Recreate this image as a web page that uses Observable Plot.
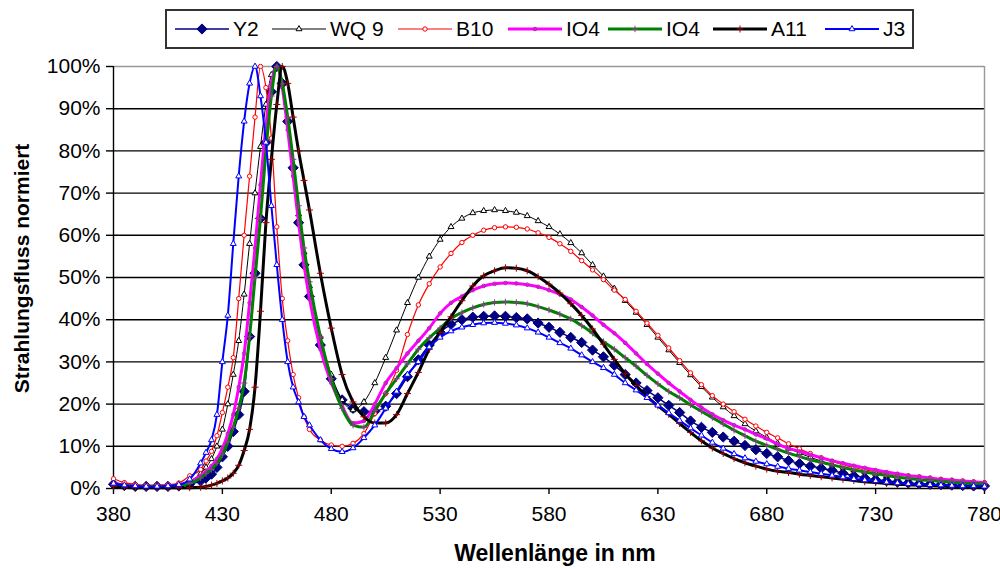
<!DOCTYPE html>
<html>
<head>
<meta charset="utf-8">
<script src="https://cdn.jsdelivr.net/npm/d3@7"></script>
<script src="https://cdn.jsdelivr.net/npm/@observablehq/plot@0.6"></script>
<style>
  html, body { margin: 0; padding: 0; background: #fff; }
  #chart { position: relative; width: 1000px; height: 569px; font-family: "Liberation Sans", Arial, sans-serif; }
  #legend { position: absolute; left: 165px; top: 9px; width: 745px; height: 36px; border: 2px solid #333; background: #fff; }
  .item { position: absolute; top: 0; height: 36px; display: flex; align-items: center; font-size: 21px; color: #000; }
  .item svg { margin-right: 4px; }
</style>
</head>
<body>
<div id="chart"><div id="legend"></div></div>
<script>
// ---- data ----
const wavelength = [380,385,390,395,400,405,410,415,420,
  422.5,425,427.5,430,432.5,435,437.5,440,442.5,445,447.5,450,452.5,455,457.5,460,462.5,465,467.5,470,
  475,480,485,490,495,500,505,510,515,520,525,530,535,540,545,550,555,560,565,570,575,580,585,590,595,
  600,605,610,615,620,625,630,635,640,645,650,655,660,665,670,675,680,685,690,695,700,705,710,715,720,
  725,730,735,740,745,750,755,760,765,770,775,780];

const Y2 = [1.0,0.7,0.5,0.5,0.5,0.5,0.6,1.0,1.8,
  2.5,3.4,5.0,7.5,10,13.5,17.5,23,36,51,64,82,94,100,96,87,76,63,53,45.5,
  34,26,21,19,18.2,18.3,19.5,22.5,26.5,30.5,34,37,38.9,40,40.6,40.8,40.9,40.8,40.5,40.2,39.2,38.2,37,35.8,34.6,
  32.8,31.2,29.2,27,25,23.2,21.5,19.7,18,16,14.5,13.3,12.2,11.2,10.2,9.2,8.3,7.5,6.6,5.9,5.3,4.8,4.3,3.6,3.0,
  2.5,2.1,1.8,1.5,1.3,1.1,1.0,0.9,0.8,0.7,0.6,0.6];

const WQ9 = [1.5,1.0,0.8,0.7,0.7,0.7,0.9,1.8,3.5,
  5,7,10,14,20,27,35,46,58,70,81,91,98,100,96,87,76,65,56,48,
  36,27,21,18.6,20.5,25,31,37.5,44,50,55,59,62,64,65.3,65.8,66,65.8,65.4,64.6,63.4,62,60.3,58.2,55.8,
  53,50.3,47.4,44.5,41.7,38.8,35.8,32.8,29.8,26.9,24.1,21.6,19.3,17.2,15.3,13.6,12.1,10.7,9.5,8.4,7.4,6.5,5.7,5.0,4.4,
  3.9,3.4,3.0,2.6,2.3,2.0,1.8,1.5,1.3,1.1,1.0,0.9];

const B10 = [2.3,1.4,1.0,0.8,0.8,0.9,1.3,3.0,4.5,
  6.5,8.8,12.5,18,24,31,45,60,74,88,100,95,83,62,45,35,27,21.5,17,14,
  11.5,10.3,10,10.7,13,17.8,22.5,28,36.5,43.5,48.5,52.5,55.7,58.3,60,61.2,61.8,62,61.9,61.5,60.6,59.5,58,56.2,54,
  51.8,49.5,47,44.8,42,39.2,36.3,33.3,30.3,27.4,24.6,22,20,18.2,16.4,14.8,13.3,12,10.6,9.4,8.3,7.3,6.4,5.6,5.0,
  4.4,4.0,3.6,3.3,3.0,2.8,2.5,2.2,2.0,1.8,1.6,1.4];

const IO4_magenta = [1.2,0.8,0.6,0.5,0.5,0.6,0.8,1.5,3.0,
  4,5.3,7,9.5,13,17.5,24,32,44,57,72,86,96,100,95,85,74,63,53,45,
  33,25,19.5,15.5,16,20,25,28.5,32,35,38,41.5,44,45.5,47,48,48.5,48.7,48.6,48.3,47.8,47,46,44.8,43,
  41,38.8,36.8,34.5,32,29.5,27.2,25,23,21,19.2,17.6,16.2,15,14,12.8,11.8,10.5,9.5,8.8,8,7.3,6.6,6,5.4,
  4.9,4.4,3.9,3.5,3.1,2.8,2.5,2.2,2.0,1.8,1.6,1.4];

const IO4_green = [1.0,0.7,0.5,0.5,0.5,0.5,0.7,1.2,2.5,
  3.5,4.5,6,8,11,14.5,19,25,36,50,64,80,93,100,96,88,78,67,57,49,
  36,26,19,15,14.5,18.5,22.5,26,29.5,33,35.7,38,40.3,41.7,42.8,43.6,44.1,44.2,44.1,43.8,43.1,42.3,41.3,40.2,38.6,
  36.8,34.8,33,31,29,26.8,24.8,23,21.5,19.8,18.3,16.8,15.3,13.8,12.5,11.2,10.2,9.3,8.4,7.6,6.8,6.2,5.6,5.0,4.4,
  3.9,3.5,3.1,2.7,2.4,2.1,1.9,1.7,1.5,1.3,1.2,1.1];

const A11 = [0.5,0.3,0.2,0.2,0.2,0.2,0.2,0.2,0.3,
  0.5,0.8,1.2,1.8,2.5,3.6,5.5,9,14,24,42,63,78,91,100,96,88,80,73,66,
  51,38,27,20.5,17,15.5,15.5,17.5,22.5,27.5,33,37,40.7,44.5,48,50.4,51.6,52.3,52.2,51.6,50.2,48.4,46.3,43.8,41,
  37.8,34.2,30.6,27.2,24.4,21.8,19.6,17.6,15.4,13.3,11.3,9.6,8.3,7.1,6.1,5.3,4.6,4.1,3.8,3.4,3.1,2.8,2.5,2.2,1.9,
  1.6,1.4,1.2,1.0,0.9,0.8,0.7,0.6,0.5,0.5,0.4,0.4];

const J3 = [1.2,0.8,0.6,0.5,0.5,0.6,0.9,2.2,6,
  8.5,11.5,17.5,30,41,58,74,87,96,100,93,82,67,53,40,30,24,20.5,17,15,
  11.5,9.4,8.7,9.6,12,15,19,23,27,30,33.5,35.8,37.3,38.2,38.8,39.2,39.3,39.1,38.7,38,37,35.8,34.5,33.2,31.6,
  30,28.6,27,25,23.3,21.5,19.7,17.9,16.1,14.3,12.6,10.9,9.5,8.2,7.2,6.4,5.8,5.2,4.7,4.3,3.9,3.5,3.1,2.7,2.3,
  2.0,1.8,1.5,1.3,1.1,1.0,0.9,0.8,0.7,0.6,0.6,0.5];

const seriesNames = ["Y2", "WQ 9", "B10", "IO4", "IO4", "A11", "J3"];
const seriesValues = [Y2, WQ9, B10, IO4_magenta, IO4_green, A11, J3];
const xTicks = [380, 430, 480, 530, 580, 630, 680, 730, 780];
const yTicks = [0, 10, 20, 30, 40, 50, 60, 70, 80, 90, 100];

// ---- styles ----
const styles = [
  {line: "#000080", lw: 1.5, symbol: "diamond2", r: 4.6, fill: "#000080", mstroke: "#000080"},
  {line: "#000000", lw: 1,   symbol: "triangle", r: 2.2, fill: "#ffffff", mstroke: "#000000"},
  {line: "#ff0000", lw: 1.2, symbol: "circle",   r: 2.2, fill: "#ffffff", mstroke: "#ff0000"},
  {line: "#ff00ff", lw: 3,   symbol: "circle",   r: 1.8, fill: "none",    mstroke: "#a030a0"},
  {line: "#008000", lw: 3,   symbol: "plus",     r: 2.2, fill: "none",    mstroke: "#993399"},
  {line: "#000000", lw: 3,   symbol: "plus",     r: 2.4, fill: "none",    mstroke: "#990000"},
  {line: "#0000ff", lw: 2,   symbol: "triangle", r: 2.2, fill: "#ffffff", mstroke: "#0000ff"}
];

const tables = seriesValues.map((vals, i) => wavelength.map((w, j) => ({nm: w, v: vals[j], s: i})));

const marks = [
  Plot.ruleY(yTicks.filter(t => t > 0 && t < 100), {stroke: "#000", strokeWidth: 1.4}),
  Plot.ruleY([100], {stroke: "#999", strokeWidth: 1.4}),
  Plot.ruleX([780], {stroke: "#999", strokeWidth: 1.4}),
  Plot.ruleX([380], {stroke: "#000", strokeWidth: 1.4}),
  Plot.ruleY([0], {stroke: "#000", strokeWidth: 1.4}),
  Plot.axisX({ticks: xTicks, tickSize: 6, tickPadding: 12, tickFormat: d => String(d), label: null, stroke: "#000", strokeWidth: 1.4}),
  Plot.axisY({ticks: yTicks, tickSize: 7, tickPadding: 6, tickFormat: d => d + "%", label: null, stroke: "#000", strokeWidth: 1.4}),
  Plot.text(["Strahlungsfluss normiert"], {frameAnchor: "left", textAnchor: "middle", dx: -91, dy: -9, rotate: -90, text: d => d, fontSize: 21, fontWeight: "bold"}),
  Plot.text(["Wellenlänge in nm"], {frameAnchor: "bottom", dx: 6, dy: 72, text: d => d, fontSize: 23, fontWeight: "bold"})
];

tables.forEach((rows, i) => {
  const st = styles[i];
  marks.push(Plot.line(rows, {x: "nm", y: "v", stroke: st.line, strokeWidth: st.lw, curve: "monotone-x"}));
  marks.push(Plot.dot(rows, {x: "nm", y: "v", symbol: () => st.symbol, r: st.r, fill: st.fill, stroke: st.mstroke, strokeWidth: 1}));
});

const plot = Plot.plot({
  width: 1000,
  height: 569,
  marginLeft: 113,
  marginRight: 16,
  marginTop: 66,
  marginBottom: 81,
  style: {fontFamily: "'Liberation Sans', Arial, sans-serif", fontSize: "21px", color: "#000", background: "#fff", overflow: "visible"},
  x: {domain: [380, 780]},
  y: {domain: [0, 100]},
  symbol: {type: "identity"},
  marks
});
document.getElementById("chart").prepend(plot);

// ---- legend ----
const symbolTypes = {diamond2: d3.symbolDiamond2, triangle: d3.symbolTriangle, circle: d3.symbolCircle, plus: d3.symbolPlus};
const legendLeft = [8, 105, 231, 341, 441, 546, 658];
const legend = document.getElementById("legend");
seriesNames.forEach((name, i) => {
  const st = styles[i];
  const item = document.createElement("div");
  item.className = "item";
  item.style.left = legendLeft[i] + "px";
  const path = d3.symbol(symbolTypes[st.symbol], Math.PI * st.r * st.r)();
  item.innerHTML =
    `<svg width="54" height="20" viewBox="0 0 54 20">` +
    `<line x1="0" x2="54" y1="10" y2="10" stroke="${st.line}" stroke-width="${st.lw}"/>` +
    `<path d="${path}" transform="translate(27,10)" fill="${st.fill}" stroke="${st.mstroke}" stroke-width="1"/>` +
    `</svg><span>${name}</span>`;
  legend.appendChild(item);
});
</script>
</body>
</html>
